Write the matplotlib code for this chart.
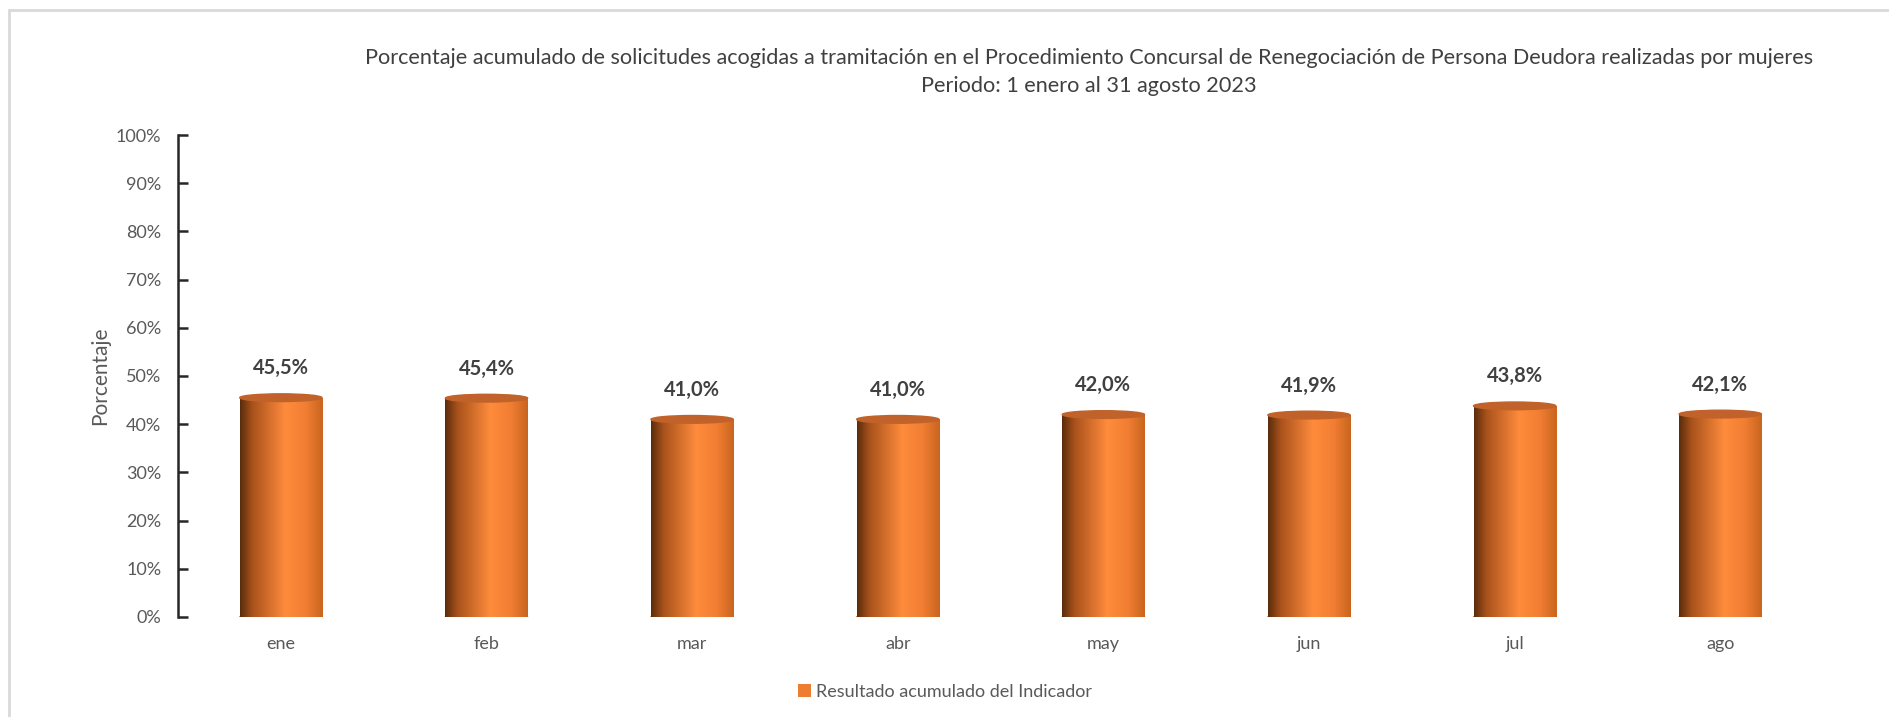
import numpy as np
import matplotlib
matplotlib.use('Agg')
import matplotlib.pyplot as plt
from matplotlib.colors import LinearSegmentedColormap
from matplotlib.patches import Ellipse, Rectangle

plt.rcParams['font.family'] = ['Lato', 'DejaVu Sans']

meses = ['ene', 'feb', 'mar', 'abr', 'may', 'jun', 'jul', 'ago']
valores = [45.5, 45.4, 41.0, 41.0, 42.0, 41.9, 43.8, 42.1]
etiquetas = ['45,5%', '45,4%', '41,0%', '41,0%', '42,0%', '41,9%', '43,8%', '42,1%']
yticks = [0, 10, 20, 30, 40, 50, 60, 70, 80, 90, 100]

titulo = ('Porcentaje acumulado de solicitudes acogidas a tramitación en el Procedimiento '
          'Concursal de Renegociación de Persona Deudora realizadas por mujeres\n'
          'Periodo: 1 enero al 31 agosto 2023')

gris = '#595959'
cyl = LinearSegmentedColormap.from_list(
    'cyl', [(0, '#5a2c0c'), (0.15, '#a9521c'), (0.55, '#ff8c3c'), (0.8, '#f07d32'), (1, '#c9651f')])

fig = plt.figure(figsize=(18.9, 7.17), dpi=100)
ax = fig.add_axes([0.0942, 0.1395, 0.8704, 0.6722])

x = np.arange(len(meses))
bars = ax.bar(x, valores, width=0.4, color='#ed7d31', label='Resultado acumulado del Indicador', zorder=2)

grad = np.linspace(0, 1, 256).reshape(1, -1)
for b, et in zip(bars, etiquetas):
    x0, w, h = b.get_x(), b.get_width(), b.get_height()
    im = ax.imshow(grad, cmap=cyl, extent=(x0, x0 + w, 0, h), aspect='auto', zorder=3)
    im.set_clip_path(b)
    ax.add_patch(Ellipse((x0 + w / 2, 0), w, 1.3, color='#e0782f', zorder=2.5))
    ax.add_patch(Ellipse((x0 + w / 2, h), w, 1.6, color='#c0622a', zorder=4))
    ax.annotate(et, (x0 + w / 2, h), xytext=(0, 14), textcoords='offset points',
                ha='center', va='bottom', fontsize=14.5, fontweight='bold', color='#404040')

ax.set_xlim(-0.5, len(meses) - 0.5)
ax.set_ylim(0, 100)
ax.set_xticks(x)
ax.set_xticklabels(meses, fontsize=13, color=gris)
ax.set_yticks(yticks)
ax.set_yticklabels([f'{t}%' for t in yticks], fontsize=13, color=gris)
ax.tick_params(axis='x', length=0, pad=14)
ax.tick_params(axis='y', direction='in', length=7, width=1.8, color='#262626', pad=12)
for s in ['top', 'right', 'bottom']:
    ax.spines[s].set_visible(False)
ax.spines['left'].set_linewidth(1.8)
ax.spines['left'].set_color('#262626')
ax.set_ylabel('Porcentaje', fontsize=15, color=gris, labelpad=4)

fig.text(0.576, 0.899, titulo, ha='center', va='center', fontsize=15.6, color='#404040', linespacing=1.5)

leg = fig.legend(handles=[bars], loc='center', bbox_to_anchor=(0.5, 0.035), frameon=False,
                 fontsize=13, handlelength=0.7, handleheight=0.7, handletextpad=0.3)
for t in leg.get_texts():
    t.set_color(gris)

fig.patches.append(Rectangle((9 / 1890, -0.1), 1.2, 1.1 - 10 / 717, transform=fig.transFigure,
                             fill=False, edgecolor='#d9d9d9', linewidth=2))

fig.savefig('out.png', dpi=100)
